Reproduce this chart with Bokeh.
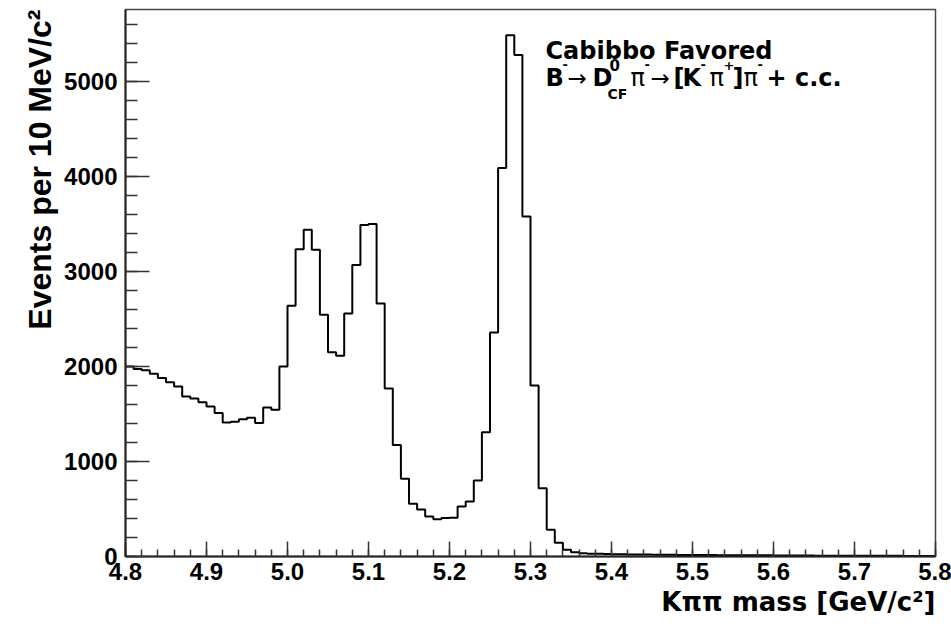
import numpy as np
from bokeh.plotting import figure
from bokeh.models import Range1d, FixedTicker, Label, Title
from bokeh.embed import file_html
from bokeh.resources import INLINE

# ---------------- data ----------------
bin_low = 4.80
bin_width = 0.01
counts = [2000, 1975, 1960, 1925, 1880, 1835, 1790, 1685, 1665, 1625,
          1580, 1510, 1410, 1420, 1445, 1460, 1405, 1570, 1545, 2000,
          2640, 3235, 3440, 3230, 2545, 2150, 2115, 2560, 3070, 3490,
          3500, 2665, 1770, 1175, 820, 555, 495, 420, 393, 405,
          407, 526, 580, 800, 1309, 2360, 4090, 5490, 5280, 3580,
          1800, 720, 281, 145, 70, 45, 35, 30, 28, 26,
          24, 23, 22, 20, 20, 19, 18, 18, 17, 16,
          16, 15, 15, 14, 14, 13, 13, 12, 12, 12,
          11, 11, 10, 10, 10, 9, 9, 9, 8, 8,
          8, 8, 7, 7, 7, 7, 6, 6, 6, 6]
x_ticks = [4.8, 4.9, 5.0, 5.1, 5.2, 5.3, 5.4, 5.5, 5.6, 5.7, 5.8]
x_tick_labels = ["4.8", "4.9", "5.0", "5.1", "5.2", "5.3", "5.4", "5.5", "5.6", "5.7", "5.8"]
y_ticks = [0, 1000, 2000, 3000, 4000, 5000]
y_tick_labels = ["0", "1000", "2000", "3000", "4000", "5000"]
x_title = "K\u03c0\u03c0 mass [GeV/c\u00b2]"
y_title = "Events per 10 MeV/c\u00b2"

# ---------------- figure ----------------
W, H = 951, 629
L, R, T, B = 125, 16, 9, 73
XMIN, XMAX, YMIN, YMAX = 4.8, 5.8, 0, 5760

p = figure(width=W, height=H, x_range=Range1d(XMIN, XMAX), y_range=Range1d(YMIN, YMAX),
           output_backend="svg", toolbar_location=None,
           min_border_left=L, min_border_right=R, min_border_top=T, min_border_bottom=B)
p.background_fill_color = "white"
p.border_fill_color = "white"
p.outline_line_color = "#444444"
p.outline_line_width = 1.5
p.xgrid.visible = False
p.ygrid.visible = False

edges = [round(bin_low + bin_width * i, 2) for i in range(len(counts) + 1)]
ys = counts + [counts[-1]]
p.step(edges, ys, mode="after", line_color="black", line_width=2)

# axes
xa = p.xaxis[0]
xa.ticker = FixedTicker(ticks=x_ticks, minor_ticks=[round(4.8 + 0.02 * i, 2) for i in range(51)])
xa.major_label_overrides = {v: s for v, s in zip(x_ticks, x_tick_labels)}
xa.major_tick_in = 15
xa.major_tick_out = 0
xa.minor_tick_in = 7
xa.minor_tick_out = 0
xa.major_label_standoff = 6

ya = p.yaxis[0]
ya.ticker = FixedTicker(ticks=y_ticks, minor_ticks=list(range(0, 5800, 200)))
ya.major_label_overrides = {v: s for v, s in zip(y_ticks, y_tick_labels)}
ya.major_tick_in = 24
ya.major_tick_out = 0
ya.minor_tick_in = 12
ya.minor_tick_out = 0
ya.major_label_standoff = 8

for ax in (xa, ya):
    ax.axis_line_color = "#222222"
    ax.axis_line_width = 2
    ax.major_tick_line_color = "#333333"
    ax.minor_tick_line_color = "#333333"
    ax.major_tick_line_width = 1.5
    ax.minor_tick_line_width = 1.5
    ax.major_label_text_font = "Liberation Sans"
    ax.major_label_text_font_style = "bold"
    ax.major_label_text_font_size = "24px"
    ax.major_label_text_color = "black"

# axis titles (right/top aligned, as in ROOT)
p.add_layout(Title(text=x_title, align="right", text_font="DejaVu Sans",
                   text_font_style="bold", text_font_size="26px",
                   text_color="black", standoff=4), "below")
p.add_layout(Title(text=y_title, align="right", text_font="Liberation Sans",
                   text_font_style="bold", text_font_size="32px",
                   text_color="black", standoff=8), "left")


def px2x(px):
    return XMIN + (px - L) / (W - L - R) * (XMAX - XMIN)


def py2y(py):
    return YMIN + (H - B - py) / (H - T - B) * (YMAX - YMIN)


def lab(text, px, py, size, style="bold", font="DejaVu Sans", align="left", angle=0):
    p.add_layout(Label(x=px2x(px), y=py2y(py), text=text, text_font=font,
                       text_font_style=style, text_font_size=f"{size}px",
                       text_align=align, text_baseline="alphabetic",
                       angle=angle, angle_units="deg", text_color="black"))


# annotation
lab("Cabibbo Favored", 545, 50, 24)
BL = 77
lab("B", 545, BL, 24)
lab("-", 562, 64, 13)
lab("\u2192", 567, BL, 23, style="normal")
lab("D", 592, BL, 24)
lab("0", 609, 64, 15)
lab("CF", 607, 93, 14)
lab("\u03c0", 630, BL, 24, style="normal")
lab("-", 644, 64, 13)
lab("\u2192", 650, BL, 23, style="normal")
lab("[", 673, BL, 24)
lab("K", 682, BL, 24)
lab("-", 700, 64, 13)
lab("\u03c0", 709, BL, 24, style="normal")
lab("+", 723, 65, 13)
lab("]", 732, BL, 24)
lab("\u03c0", 743, BL, 24, style="normal")
lab("-", 757, 64, 13)
lab("+ c.c.", 766, BL, 24)

open("out.html", "w").write(file_html(p, INLINE))
